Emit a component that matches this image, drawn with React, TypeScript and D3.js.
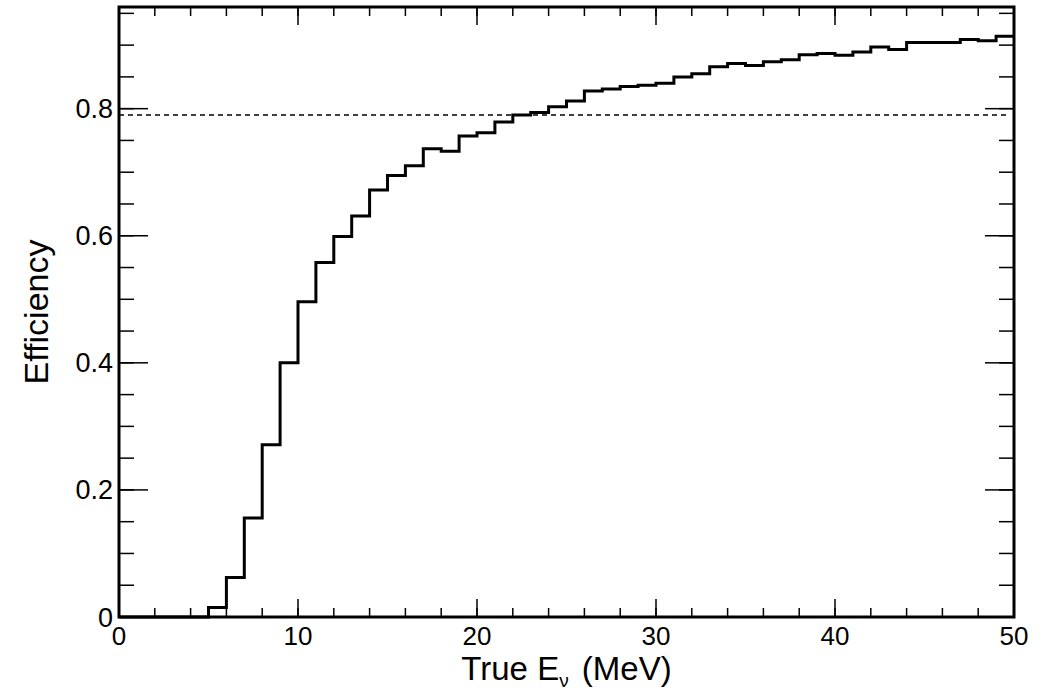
import React from "react";
import * as d3 from "d3";

const binEdgesStart = 0;
const binWidth = 1;
const efficiency = [
  0, 0, 0, 0, 0, 0.015, 0.062, 0.156, 0.271, 0.4,
  0.496, 0.558, 0.599, 0.631, 0.672, 0.695, 0.71, 0.737, 0.733, 0.757,
  0.762, 0.779, 0.79, 0.794, 0.803, 0.812, 0.828, 0.831, 0.835, 0.837,
  0.84, 0.85, 0.855, 0.866, 0.871, 0.868, 0.874, 0.877, 0.885, 0.887,
  0.884, 0.889, 0.897, 0.893, 0.904, 0.904, 0.904, 0.909, 0.907, 0.914,
];
const referenceLevel = 0.79;
const xTickLabels = [0, 10, 20, 30, 40, 50];
const yTickLabels = [0, 0.2, 0.4, 0.6, 0.8];
const xDomain = [0, 50];
const yDomain = [0, 0.96];

const W = 1053;
const H = 690;
const L = 119, R = 1014, T = 7, B = 617;
const FONT = "'Liberation Sans', Arial, Helvetica, sans-serif";

export default function App() {
  const x = d3.scaleLinear().domain(xDomain).range([L, R]);
  const y = d3.scaleLinear().domain(yDomain).range([B, T]);

  const pts: [number, number][] = [];
  efficiency.forEach((v, i) => {
    const x0 = binEdgesStart + i * binWidth;
    pts.push([x0, v], [x0 + binWidth, v]);
  });
  const line = d3.line<[number, number]>().x((d) => x(d[0])).y((d) => y(d[1]));
  const path = line(pts) || "";

  const xMinor = d3.range(0, 50.001, 2);
  const xMajor = xTickLabels;
  const yMinor = d3.range(0, 0.9501, 0.05);
  const yMajor = yTickLabels;

  const fmtY = (v: number) => (v === 0 ? "0" : d3.format(".1f")(v));
  const fmtX = (v: number) => d3.format("d")(v);

  return (
    <svg width={W} height={H} style={{ position: "absolute", left: 0, top: 0, background: "#fff" }}>
      <rect x={0} y={0} width={W} height={H} fill="#fff" />
      {/* x ticks */}
      {xMinor.map((v) => (
        <g key={"xm" + v}>
          <line x1={x(v)} x2={x(v)} y1={B} y2={B - 9} stroke="#000" strokeWidth={1.5} />
          <line x1={x(v)} x2={x(v)} y1={T} y2={T + 9} stroke="#000" strokeWidth={1.5} />
        </g>
      ))}
      {xMajor.map((v) => (
        <g key={"xM" + v}>
          <line x1={x(v)} x2={x(v)} y1={B} y2={B - 18} stroke="#000" strokeWidth={1.5} />
          <line x1={x(v)} x2={x(v)} y1={T} y2={T + 18} stroke="#000" strokeWidth={1.5} />
        </g>
      ))}
      {/* y ticks */}
      {yMinor.map((v) => (
        <g key={"ym" + v}>
          <line x1={L} x2={L + 15} y1={y(v)} y2={y(v)} stroke="#000" strokeWidth={1.5} />
          <line x1={R} x2={R - 15} y1={y(v)} y2={y(v)} stroke="#000" strokeWidth={1.5} />
        </g>
      ))}
      {yMajor.map((v) => (
        <g key={"yM" + v}>
          <line x1={L} x2={L + 29} y1={y(v)} y2={y(v)} stroke="#000" strokeWidth={1.5} />
          <line x1={R} x2={R - 29} y1={y(v)} y2={y(v)} stroke="#000" strokeWidth={1.5} />
        </g>
      ))}
      {/* dashed reference */}
      <line
        x1={x(xDomain[0])}
        x2={x(xDomain[1]) - 6}
        y1={y(referenceLevel)}
        y2={y(referenceLevel)}
        stroke="#000"
        strokeWidth={1.3}
        strokeDasharray="5,4"
      />
      {/* histogram */}
      <path d={path} fill="none" stroke="#000" strokeWidth={3} />
      {/* frame */}
      <rect x={L} y={T} width={R - L} height={B - T} fill="none" stroke="#000" strokeWidth={3} />
      {/* tick labels */}
      {xTickLabels.map((v) => (
        <text key={"xl" + v} x={x(v)} y={B + 28} textAnchor="middle" fontFamily={FONT} fontSize={26} fill="#000">
          {fmtX(v)}
        </text>
      ))}
      {yTickLabels.map((v) => (
        <text key={"yl" + v} x={L - 6} y={y(v) + 9.5} textAnchor="end" fontFamily={FONT} fontSize={27} fill="#000">
          {fmtY(v)}
        </text>
      ))}
      {/* axis titles */}
      <text x={(L + R) / 2} y={680} textAnchor="middle" fontFamily={FONT} fontSize={33} fill="#000">
        True E
        <tspan fontSize={19} dy={7}>ν</tspan>
        <tspan dy={-7} dx={4}> (MeV)</tspan>
      </text>
      <text
        transform={`translate(48, ${(T + B) / 2}) rotate(-90)`}
        textAnchor="middle"
        fontFamily={FONT}
        fontSize={34}
        fill="#000"
      >
        Efficiency
      </text>
    </svg>
  );
}
